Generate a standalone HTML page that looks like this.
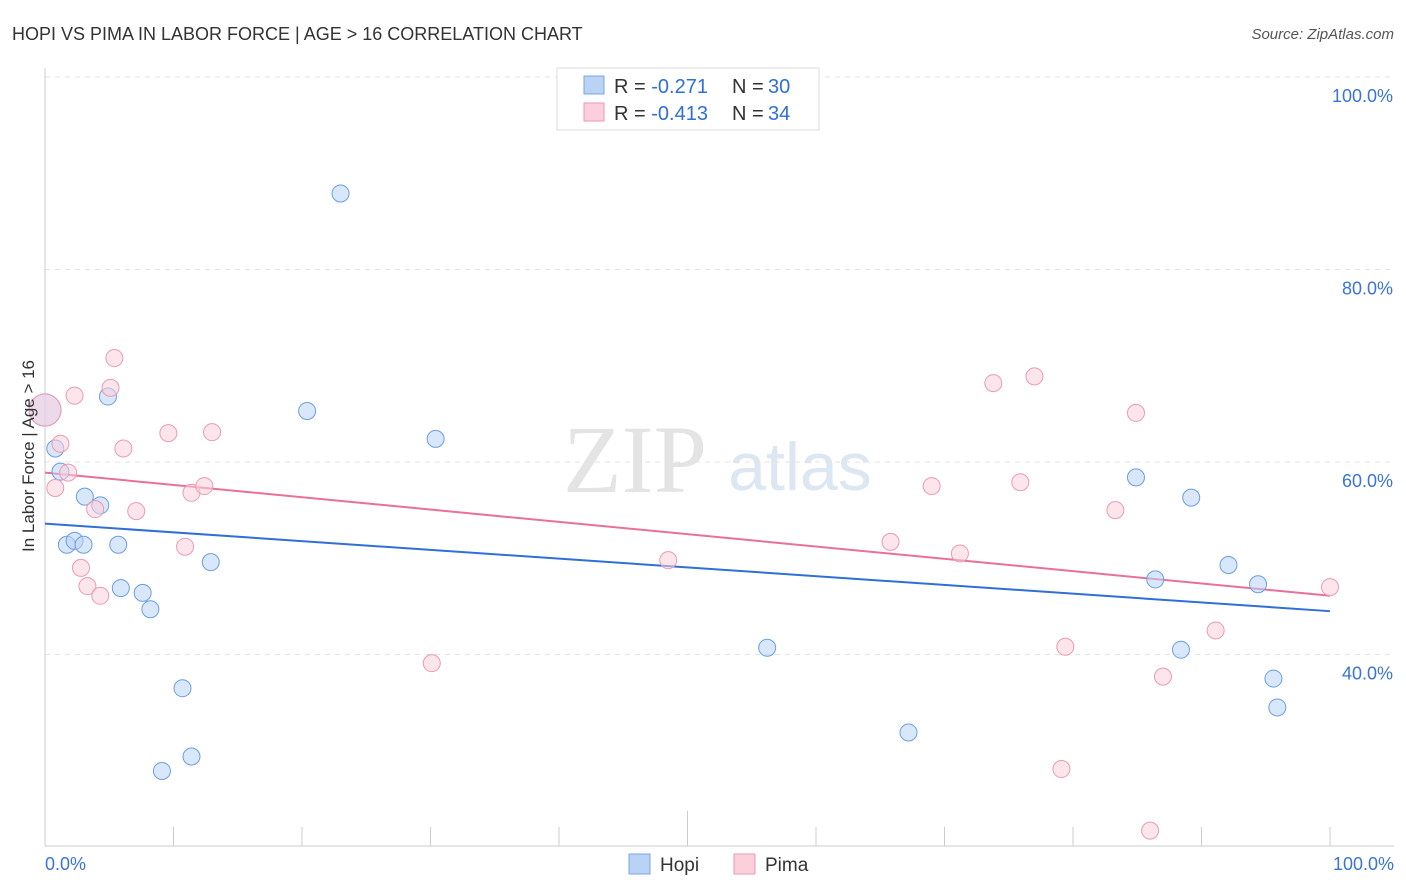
<!DOCTYPE html>
<html><head><meta charset="utf-8"><style>
body{margin:0;background:#fff;font-family:"Liberation Sans",sans-serif}
svg{display:block}
</style></head><body>
<svg id="chart" width="1406" height="892">
<text x="12" y="40" font-size="18" fill="#333">HOPI VS PIMA IN LABOR FORCE | AGE &gt; 16 CORRELATION CHART</text>
<text x="1394" y="39" font-size="15" fill="#555" font-style="italic" text-anchor="end">Source: ZipAtlas.com</text>
<g>
<text x="635" y="492" font-size="96" font-family="Liberation Serif" fill="#e4e4e4" text-anchor="middle">ZIP</text>
<text x="800" y="490" font-size="68" fill="#dde6f3" text-anchor="middle">atlas</text>
</g>
<g id="grid"></g>
<g id="axes"></g>
<g id="lines"></g>
<g id="points"></g>
<text transform="translate(34,456) rotate(-90)" font-size="17" fill="#333" text-anchor="middle">In Labor Force | Age &gt; 16</text>
<g>
<rect x="557" y="68" width="262" height="62" fill="#fff" stroke="#ddd"/>
<rect x="584" y="76" width="20" height="18" fill="#b9d3f5" stroke="#7aa6e0"/>
<rect x="584" y="103" width="20" height="18" fill="#fbcfdc" stroke="#eb9ab4"/>
<text x="614" y="93" font-size="20" fill="#333">R = <tspan fill="#2f6fd6">-0.271</tspan></text>
<text x="732" y="93" font-size="20" fill="#333">N =</text>
<text x="768" y="93" font-size="20" fill="#2f6fd6">30</text>
<text x="614" y="120" font-size="20" fill="#333">R = <tspan fill="#2f6fd6">-0.413</tspan></text>
<text x="732" y="120" font-size="20" fill="#333">N =</text>
<text x="768" y="120" font-size="20" fill="#2f6fd6">34</text>
</g>
<g>
<rect x="629" y="854" width="21" height="20" fill="#b9d3f5" stroke="#7aa6e0"/>
<text x="660" y="871" font-size="19" fill="#333">Hopi</text>
<rect x="734" y="854" width="21" height="20" fill="#fbcfdc" stroke="#eb9ab4"/>
<text x="765" y="871" font-size="19" fill="#333">Pima</text>
</g>
</svg>
<script>
const yTicks=[40,60,80,100];
const xTickLabels=["0.0%","100.0%"];
const hopiX=[0,0.8,1.2,3.1,4.3,1.7,2.3,3.0,5.7,4.9,5.9,7.6,8.2,10.7,9.1,11.4,12.9,20.4,23.0,30.4,56.2,67.2,84.9,89.2,86.4,88.4,92.1,94.4,95.6,95.9];
const hopiY=[65.4,61.4,59.0,56.4,55.5,51.4,51.8,51.4,51.4,66.8,46.9,46.4,44.7,36.5,27.9,29.4,49.6,65.3,87.9,62.4,40.7,31.9,58.4,56.3,47.8,40.5,49.3,47.3,37.5,34.5];
const pimaX=[0,1.2,0.8,1.8,2.3,5.4,5.1,6.1,3.9,7.1,2.8,3.3,4.3,9.6,11.4,12.4,13.0,10.9,30.1,48.5,65.8,69.0,71.2,73.8,77.0,75.9,79.4,79.1,83.3,84.9,87.0,86.0,91.1,100];
const pimaY=[65.4,61.9,57.3,58.9,66.9,70.8,67.7,61.4,55.1,54.9,49.0,47.1,46.1,63.0,56.8,57.5,63.1,51.2,39.1,49.8,51.7,57.5,50.5,68.2,68.9,57.9,40.8,28.1,55.0,65.1,37.7,21.7,42.5,47.0];
const hopiTrend=[53.6,44.5];
const pimaTrend=[58.9,46.1];
const NS="http://www.w3.org/2000/svg";
const X=v=>45+v*12.85;
const Y=v=>847-(v-20)*9.625;
function mk(tag,attrs,parent){const e=document.createElementNS(NS,tag);for(const k in attrs)e.setAttribute(k,attrs[k]);document.getElementById(parent).appendChild(e);return e;}
yTicks.forEach(t=>{
 const l=mk('line',{x1:45,x2:1394,y1:Y(t),y2:Y(t),stroke:'#e3e3e3','stroke-dasharray':'5,5'},'grid');
 
 
 const tx=mk('text',{x:1393,y:Y(t)+25,'font-size':18,fill:'#3a74d4','text-anchor':'end'},'grid');
 tx.textContent=t.toFixed(1)+'%';
 
 
});
const ya=mk('line',{x1:45,x2:45,y1:68,y2:846,stroke:'#ccc'},'axes');


const xa=mk('line',{x1:45,x2:1394,y1:846,y2:846,stroke:'#ccc'},'axes');


for(let i=0;i<=10;i++){
 const t=mk('line',{x1:X(i*10),x2:X(i*10),y1:846,y2:i==5?811:827,stroke:'#ccc'},'axes');
 
 
}
[[0,'start',45],[1,'end',1394]].forEach(([i,a,x])=>{
 const t=mk('text',{x:x,y:870,'font-size':18,fill:'#3a74d4','text-anchor':a},'axes');
 t.textContent=xTickLabels[i];
 
 
});
const hl=mk('line',{x1:X(0),x2:X(100),y1:Y(hopiTrend[0]),y2:Y(hopiTrend[1]),stroke:'#2f6fd6','stroke-width':2},'lines');


const pl=mk('line',{x1:X(0),x2:X(100),y1:Y(pimaTrend[0]),y2:Y(pimaTrend[1]),stroke:'#e8709a','stroke-width':2},'lines');


function pts(xs,ys,fill,stroke,name){
 xs.forEach((x,i)=>{
  const c=mk('circle',{cx:X(x),cy:Y(ys[i]),r:(i==0?16:8.5),fill:fill,'fill-opacity':0.55,stroke:stroke,'stroke-width':1},'points');
  
  
 });
}
pts(hopiX,hopiY,'#b9d3f5','#6b9ee0','hopi');
pts(pimaX,pimaY,'#fbcfdc','#eb9ab4','pima');
</script>
</body></html>
